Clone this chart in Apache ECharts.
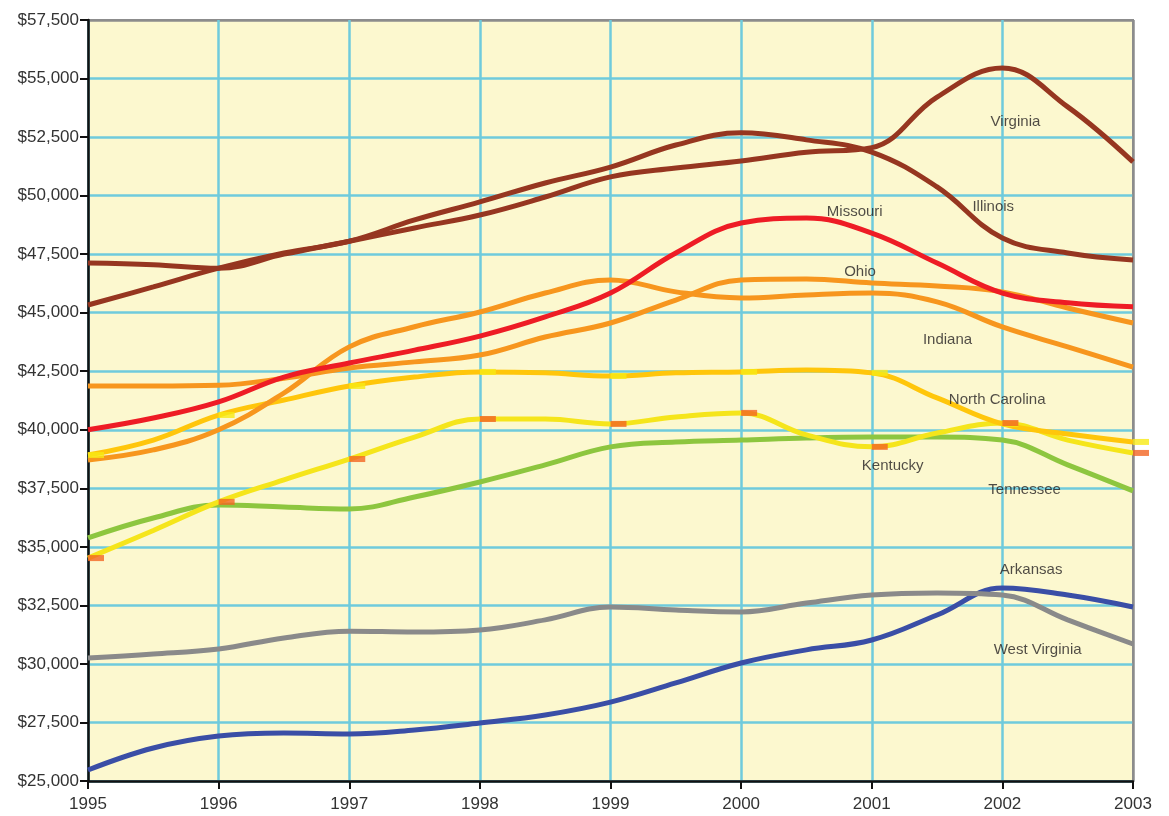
<!DOCTYPE html>
<html>
<head>
<meta charset="utf-8">
<script src="https://cdn.jsdelivr.net/npm/echarts@6/dist/echarts.min.js"></script>
<style>
html,body{margin:0;padding:0;background:#fff}
#main{width:1169px;height:816px}
</style>
</head>
<body>
<div id="main"></div>
<script>
// half-year steps
var years = [1995,1995.5,1996,1996.5,1997,1997.5,1998,1998.5,1999,1999.5,2000,2000.5,2001,2001.5,2002,2002.5,2003];
var virginia = [47120,47050,46900,47500,48050,48620,49170,49940,50800,51180,51480,51850,52050,54210,55450,53790,51440];
var illinois = [45330,46100,46900,47550,48050,48960,49730,50540,51220,52160,52680,52380,51860,50370,48190,47550,47250];
var missouri = [40000,40500,41190,42250,42850,43400,44000,44820,45840,47550,48830,49040,48400,47120,45840,45420,45250];
var ohio = [41870,41870,41900,42200,42640,42900,43190,43960,44560,45540,46400,46440,46270,46140,45890,45200,44560];
var indiana = [38710,39140,40000,41570,43540,44400,45030,45840,46400,45890,45630,45760,45840,45460,44390,43540,42680];
var northCarolina = [38920,39560,40630,41270,41870,42250,42470,42430,42300,42430,42470,42550,42430,41360,40250,39820,39480];
var kentucky = [34520,35700,36920,37860,38750,39690,40460,40460,40250,40550,40720,39780,39270,39860,40290,39560,39010];
var tennessee = [35380,36230,36790,36700,36620,37130,37770,38500,39270,39480,39560,39650,39690,39690,39560,38500,37390];
var westVirginia = [30250,30420,30640,31110,31400,31360,31450,31880,32430,32300,32220,32600,32940,33030,32940,31880,30850];
var arkansas = [25470,26410,26920,27050,27010,27180,27480,27820,28370,29190,30040,30600,31020,32090,33240,32940,32430];

// state name labels [name, year, value]
var stateLabels = [
    ['Virginia',2002.1,53150],
    ['Illinois',2001.93,49520],
    ['Missouri',2000.87,49300],
    ['Ohio',2000.91,46740],
    ['Indiana',2001.58,43830],
    ['North Carolina',2001.96,41270],
    ['Kentucky',2001.16,38450],
    ['Tennessee',2002.17,37430],
    ['Arkansas',2002.22,34010],
    ['West Virginia',2002.27,30600]
];

function pairs(arr){
    var out = [];
    for(var i=0;i<years.length;i++){
        out.push([years[i],arr[i]]);
    }
    return out;
}
// markers only on whole years
function yearly(arr){
    var out = [];
    for(var i=0;i<years.length;i++){
        if(years[i]%1===0) out.push([years[i],arr[i]]);
    }
    return out;
}
function line(name,arr,color){
    return {
        name:name,
        type:'line',
        smooth:0.4,
        symbol:'none',
        lineStyle:{width:5,color:color},
        data:pairs(arr)
    };
}
function marks(name,arr,color){
    return {
        name:name,
        type:'scatter',
        symbol:'rect',
        symbolSize:[16,6],
        symbolOffset:[8,0],
        clip:false,
        itemStyle:{color:color},
        data:yearly(arr),
        z:5
    };
}
// blue grid lines, the last one grey like the frame
function gridColors(n){
    var c = [];
    for(var i=0;i<n;i++) c.push(i==n-1?'#8c8c8c':'#6FCBDC');
    return c;
}

var myChart = echarts.init(document.getElementById('main'));
var option = {
    animation:false,
    grid:{
        left:88,right:36,top:20,bottom:35,
        show:true,
        backgroundColor:'#FCF8CF',
        borderColor:'#8c8c8c',
        borderWidth:2
    },
    xAxis:{
        type:'value',
        min:1995,max:2003,interval:1,
        axisLine:{show:true,lineStyle:{color:'#111',width:2.5}},
        axisTick:{show:true,length:8,lineStyle:{color:'#111',width:2}},
        axisLabel:{
            margin:15,color:'#333',fontSize:17,fontFamily:'Liberation Sans',
            formatter:function(v){return String(v)}
        },
        splitLine:{show:true,lineStyle:{color:gridColors(9),width:2.5}}
    },
    yAxis:{
        type:'value',
        min:25000,max:57500,interval:2500,
        axisLine:{show:true,lineStyle:{color:'#111',width:2.5}},
        axisTick:{show:true,length:8,lineStyle:{color:'#111',width:2}},
        axisLabel:{
            margin:9,color:'#333',fontSize:17,fontFamily:'Liberation Sans',
            formatter:function(v){return '$'+v.toLocaleString('en-US')}
        },
        splitLine:{show:true,lineStyle:{color:gridColors(14),width:2.5}}
    },
    series:[
        line('Arkansas',arkansas,'#3A4EA6'),
        line('West Virginia',westVirginia,'#8A8A8A'),
        line('Tennessee',tennessee,'#8DC63F'),
        line('Kentucky',kentucky,'#F5E51B'),
        line('North Carolina',northCarolina,'#FFC60B'),
        line('Indiana',indiana,'#F7961E'),
        line('Ohio',ohio,'#F7961E'),
        line('Missouri',missouri,'#EE1C25'),
        line('Illinois',illinois,'#963620'),
        line('Virginia',virginia,'#963620'),
        marks('North Carolina',northCarolina,'#F7EA14'),
        marks('Kentucky',kentucky,'#F26522'),
        {
            name:'labels',
            type:'scatter',
            symbolSize:0,
            silent:true,
            z:10,
            label:{
                show:true,
                position:'inside',
                color:'#231F20',
                fontSize:15,
                fontFamily:'Liberation Sans',
                formatter:function(p){return p.data[2]}
            },
            data:stateLabels.map(function(d){return [d[1],d[2],d[0]]})
        }
    ]
};
myChart.setOption(option);
</script>
</body>
</html>
